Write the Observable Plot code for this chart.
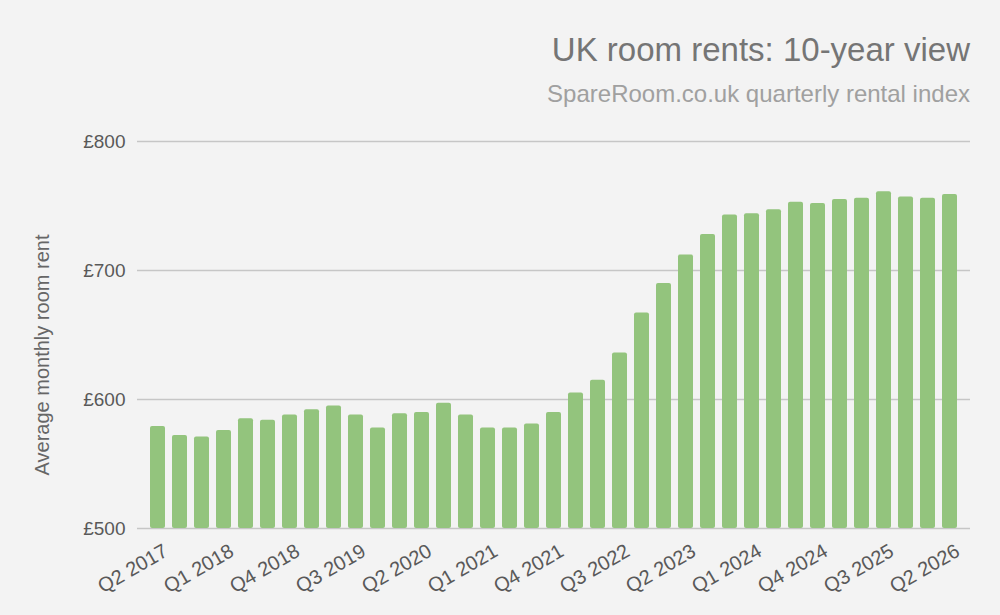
<!DOCTYPE html>
<html>
<head>
<meta charset="utf-8">
<script src="https://cdn.jsdelivr.net/npm/d3@7"></script>
<script src="https://cdn.jsdelivr.net/npm/@observablehq/plot@0.6"></script>
<style>
  html, body { margin: 0; padding: 0; background: #f3f3f3; }
  body { width: 1000px; height: 615px; overflow: hidden; font-family: "Liberation Sans", Arial, sans-serif; }
  #header { height: 120px; position: relative; }
  #title { position: absolute; right: 30px; top: 31px; font-size: 33px; line-height: 1.15; color: #757575; white-space: nowrap; }
  #subtitle { position: absolute; right: 30px; top: 80px; font-size: 24px; line-height: 1.15; color: #a0a0a0; white-space: nowrap; }
  #chart svg g[aria-label="y-axis tick label"] text { font-size: 19px; }
  #chart svg g[aria-label="x-axis tick label"] text { font-size: 20px; }
  #chart svg g[aria-label="text"] text { font-size: 20px; }
</style>
</head>
<body>
<div id="header">
  <div id="title">UK room rents: 10-year view</div>
  <div id="subtitle">SpareRoom.co.uk quarterly rental index</div>
</div>
<div id="chart"></div>
<script>
const quarters = [
  "Q2 2017","Q3 2017","Q4 2017","Q1 2018","Q2 2018","Q3 2018","Q4 2018",
  "Q1 2019","Q2 2019","Q3 2019","Q4 2019","Q1 2020","Q2 2020","Q3 2020","Q4 2020",
  "Q1 2021","Q2 2021","Q3 2021","Q4 2021","Q1 2022","Q2 2022","Q3 2022","Q4 2022",
  "Q1 2023","Q2 2023","Q3 2023","Q4 2023","Q1 2024","Q2 2024","Q3 2024","Q4 2024",
  "Q1 2025","Q2 2025","Q3 2025","Q4 2025","Q1 2026","Q2 2026"
];
const rents = [
  579, 572, 571, 576, 585, 584, 588,
  592, 595, 588, 578, 589, 590, 597, 588,
  578, 578, 581, 590, 605, 615, 636, 667,
  690, 712, 728, 743, 744, 747, 753, 752,
  755, 756, 761, 757, 756, 759
];
const yTicks = [500, 600, 700, 800];
const xTicks = quarters.filter((d, i) => i % 3 === 0);
const yLabel = "Average monthly room rent";

const data = quarters.map((q, i) => ({quarter: q, rent: rents[i]}));

const chart = Plot.plot({
  width: 1000,
  height: 495,
  marginTop: 21,
  marginBottom: 87,
  marginLeft: 137,
  marginRight: 30,
  style: {background: "transparent", fontFamily: "Liberation Sans, Arial, sans-serif", fontSize: "19px", color: "#595959"},
  x: {domain: quarters, padding: 0.32, align: 0.5, label: null},
  y: {domain: [500, 800], label: null},
  marks: [
    Plot.ruleY(yTicks, {stroke: "#c6c6c6", strokeWidth: 1.3}),
    Plot.barY(data, {x: "quarter", y1: 500, y2: "rent", fill: "#93c47d", rx: 2}),
    Plot.axisY({ticks: yTicks, tickFormat: d => "£" + d, tickSize: 0, tickPadding: 12, fontSize: 19, fill: "#595959", label: null}),
    Plot.axisX({ticks: xTicks, tickSize: 0, tickPadding: 13, tickRotate: -30, fontSize: 20, fill: "#595959", dx: 8, dy: 8, label: null}),
    Plot.text([yLabel], {frameAnchor: "left", textAnchor: "middle", dx: -95, dy: 20, rotate: -90, fontSize: 20, fill: "#666666", text: d => d})
  ]
});
document.getElementById("chart").appendChild(chart);
</script>
</body>
</html>
